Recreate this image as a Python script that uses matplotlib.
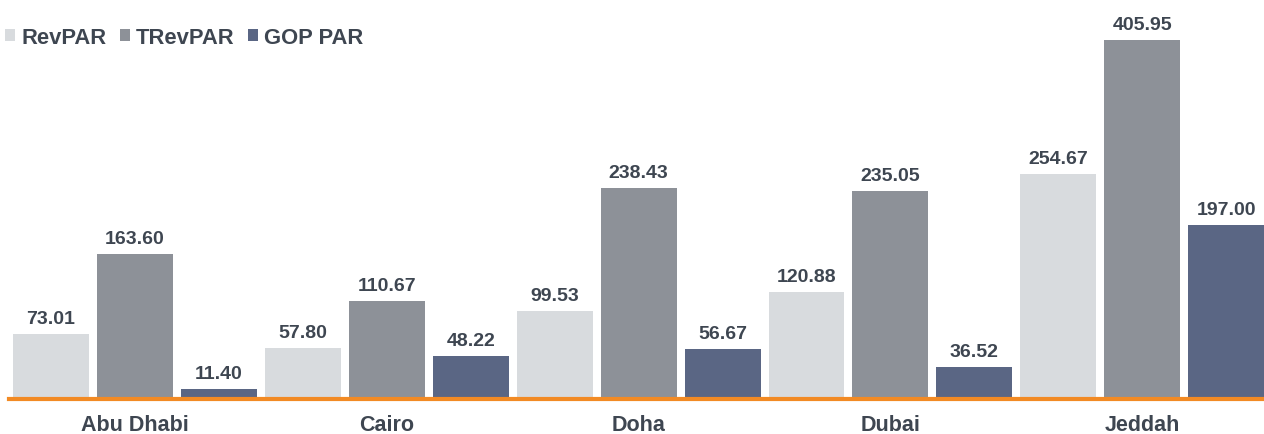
import numpy as np
import matplotlib.pyplot as plt

# chart data
cities = ['Abu Dhabi', 'Cairo', 'Doha', 'Dubai', 'Jeddah']
revpar = [73.01, 57.80, 99.53, 120.88, 254.67]
trevpar = [163.60, 110.67, 238.43, 235.05, 405.95]
goppar = [11.40, 48.22, 56.67, 36.52, 197.00]

series_names = ['RevPAR', 'TRevPAR', 'GOP PAR']
colors = ['#d8dbde', '#8d9198', '#5a6684']
text_color = '#3e4651'

plt.rcParams['font.family'] = ['Liberation Sans', 'DejaVu Sans']

fig = plt.figure(figsize=(12.64, 4.35), dpi=100)
ax = fig.add_axes([9 / 1264, 35 / 435, 1255 / 1264, 400 / 435])

x = np.arange(len(cities)) * 3
width = 0.905
handles = []
for k, (vals, name, c) in enumerate(zip([revpar, trevpar, goppar], series_names, colors)):
    bars = ax.bar(x + k, vals, width, color=c, label=name, zorder=2)
    handles.append(bars)
    for b, v in zip(bars, vals):
        ax.annotate('%.2f' % v, (b.get_x() + b.get_width() / 2, v),
                    xytext=(0, 5), textcoords='offset points',
                    ha='center', va='bottom', fontsize=14, fontweight='bold',
                    color=text_color)

ax.set_xlim(-0.5, 14.45)
ax.set_ylim(0, 452)
ax.set_yticks([])
ax.set_xticks(x + 1)
ax.set_xticklabels(cities, fontsize=15.5, fontweight='bold', color=text_color)
ax.tick_params(axis='x', length=0, pad=11)

for s in ['top', 'right', 'left']:
    ax.spines[s].set_visible(False)
ax.spines['bottom'].set_color('#f28a24')
ax.spines['bottom'].set_linewidth(3)
ax.spines['bottom'].set_zorder(3)

leg = fig.legend(handles=handles, loc='center left', bbox_to_anchor=(5 / 1264, 1 - 38 / 435),
                 ncol=3, frameon=False, handlelength=0.45, handleheight=0.45,
                 handletextpad=0.3, columnspacing=0.6, borderpad=0, borderaxespad=0,
                 prop={'size': 15.8, 'weight': 'bold'})
for t in leg.get_texts():
    t.set_color(text_color)

fig.savefig('out.png', dpi=100)
